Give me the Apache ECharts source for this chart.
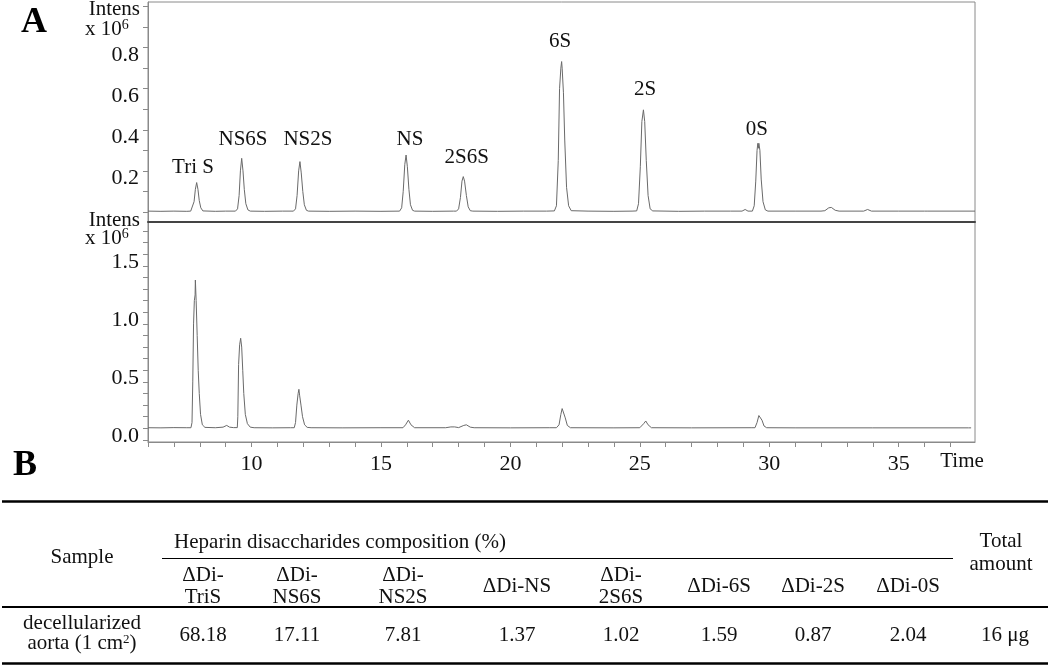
<!DOCTYPE html>
<html>
<head>
<meta charset="utf-8">
<script src="https://cdn.jsdelivr.net/npm/echarts@6/dist/echarts.min.js"></script>
<style>
  html, body { margin: 0; padding: 0; background: #fff; }
  #chart { width: 1050px; height: 666px; }
</style>
</head>
<body>
<div id="chart"></div>
<script>
// standard mix, intensity x10^6 vs time (min)
var standardTrace = [
  [6.0, 0.004], [6.5, 0.003], [7.0, 0.004], [7.5, 0.003],
  [7.65, 0.004], [7.72, 0.012], [7.78, 0.05], [7.83, 0.11], [7.88, 0.143], [7.93, 0.11], [7.98, 0.055], [8.04, 0.02], [8.12, 0.005],
  [8.6, 0.003], [9.0, 0.004],
  [9.38, 0.004], [9.46, 0.015], [9.52, 0.08], [9.57, 0.2], [9.62, 0.261], [9.67, 0.2], [9.72, 0.11], [9.78, 0.04], [9.86, 0.01], [9.95, 0.004],
  [10.5, 0.003], [11.2, 0.004],
  [11.62, 0.004], [11.7, 0.015], [11.76, 0.08], [11.82, 0.2], [11.87, 0.245], [11.92, 0.19], [11.98, 0.1], [12.04, 0.035], [12.12, 0.008], [12.2, 0.004],
  [13.0, 0.003], [14.0, 0.004], [15.0, 0.003],
  [15.72, 0.004], [15.8, 0.02], [15.86, 0.1], [15.92, 0.23], [15.97, 0.277], [16.02, 0.22], [16.08, 0.11], [16.14, 0.035], [16.22, 0.008], [16.3, 0.004],
  [17.0, 0.003], [17.8, 0.004],
  [17.92, 0.004], [18.0, 0.015], [18.07, 0.07], [18.13, 0.15], [18.18, 0.172], [18.23, 0.15], [18.3, 0.08], [18.37, 0.025], [18.45, 0.006], [18.55, 0.004],
  [19.5, 0.003], [20.5, 0.004], [21.4, 0.004],
  [21.7, 0.005], [21.78, 0.03], [21.85, 0.25], [21.9, 0.6], [21.95, 0.7], [21.98, 0.732], [22.0, 0.7], [22.05, 0.58], [22.1, 0.35], [22.17, 0.12], [22.25, 0.03], [22.35, 0.006],
  [23.0, 0.004], [24.0, 0.003], [24.7, 0.004],
  [24.88, 0.005], [24.95, 0.04], [25.02, 0.22], [25.08, 0.44], [25.14, 0.497], [25.19, 0.44], [25.25, 0.25], [25.32, 0.08], [25.4, 0.015], [25.5, 0.005],
  [26.5, 0.003], [27.5, 0.004], [28.5, 0.004],
  [28.95, 0.004], [29.07, 0.012], [29.18, 0.004],
  [29.35, 0.004], [29.42, 0.03], [29.48, 0.15], [29.53, 0.3], [29.56, 0.334], [29.58, 0.31], [29.6, 0.334], [29.64, 0.3], [29.69, 0.16], [29.76, 0.05], [29.85, 0.01], [29.95, 0.004],
  [31.0, 0.004], [32.0, 0.004],
  [32.15, 0.006], [32.3, 0.02], [32.4, 0.022], [32.55, 0.008], [32.7, 0.004],
  [33.65, 0.004], [33.8, 0.012], [33.95, 0.004],
  [35.0, 0.004], [36.0, 0.004], [36.05, 0.008], [36.1, 0.004], [37.95, 0.004]
];

// decellularized aorta sample
var sampleTrace = [
  [6.0, 0.005], [6.5, 0.004], [7.0, 0.006], [7.5, 0.005],
  [7.66, 0.005], [7.7, 0.05], [7.73, 0.4], [7.76, 0.9], [7.79, 1.1], [7.82, 1.15], [7.83, 1.278], [7.85, 1.278], [7.86, 1.1], [7.9, 0.8], [7.94, 0.5], [7.98, 0.3], [8.03, 0.12], [8.1, 0.03], [8.2, 0.008],
  [8.6, 0.005], [8.9, 0.01], [9.04, 0.025], [9.15, 0.01], [9.3, 0.006],
  [9.45, 0.006], [9.47, 0.1], [9.5, 0.55], [9.54, 0.72], [9.58, 0.776], [9.62, 0.7], [9.66, 0.5], [9.7, 0.3], [9.76, 0.12], [9.84, 0.04], [9.95, 0.01], [10.1, 0.005],
  [10.8, 0.004], [11.5, 0.005],
  [11.65, 0.005], [11.7, 0.05], [11.75, 0.2], [11.8, 0.3], [11.83, 0.336], [11.86, 0.28], [11.91, 0.2], [11.97, 0.1], [12.05, 0.03], [12.15, 0.008], [12.3, 0.005],
  [13.5, 0.004], [15.0, 0.005],
  [15.85, 0.005], [15.95, 0.03], [16.06, 0.07], [16.16, 0.03], [16.3, 0.005],
  [17.5, 0.005], [17.7, 0.012], [17.85, 0.012], [18.0, 0.006], [18.2, 0.025], [18.3, 0.03], [18.45, 0.01], [18.6, 0.005],
  [20.0, 0.004], [21.5, 0.005],
  [21.78, 0.005], [21.88, 0.03], [21.95, 0.12], [22.0, 0.17], [22.06, 0.165], [22.12, 0.09], [22.2, 0.025], [22.32, 0.005],
  [24.0, 0.004], [25.0, 0.005],
  [25.05, 0.005], [25.15, 0.04], [25.23, 0.063], [25.32, 0.03], [25.45, 0.005],
  [27.0, 0.004], [29.3, 0.005],
  [29.45, 0.005], [29.53, 0.05], [29.6, 0.11], [29.65, 0.115], [29.72, 0.07], [29.8, 0.02], [29.9, 0.005],
  [31.0, 0.004], [34.0, 0.004], [37.7, 0.004], [37.75, 0.012], [37.8, 0.004]
];

var peakNames = ['Tri S', 'NS6S', 'NS2S', 'NS', '2S6S', '6S', '2S', '0S'];
var peakLabelTime = [7.74, 9.67, 12.18, 16.12, 18.31, 21.92, 25.2, 29.52];
var peakLabelLevel = [0.214, 0.351, 0.351, 0.351, 0.263, 0.829, 0.594, 0.399];

var timeTicks = [6, 7, 8, 9, 10, 11, 12, 13, 14, 15, 16, 17, 18, 19, 20, 21, 22, 23, 24, 25, 26, 27, 28, 29, 30, 31, 32, 33, 34, 35, 36, 37];
var timeLabels = [10, 15, 20, 25, 30, 35];
var topTicks = [0, 0.1, 0.2, 0.3, 0.4, 0.5, 0.6, 0.7, 0.8, 0.9, 1.0];
var topLabels = [0.2, 0.4, 0.6, 0.8];
var bottomTicks = [-0.1, 0, 0.1, 0.2, 0.3, 0.4, 0.5, 0.6, 0.7, 0.8, 0.9, 1.0, 1.1, 1.2, 1.3, 1.4, 1.5, 1.6, 1.7];
var bottomLabels = [0, 0.5, 1.0, 1.5];

// table B
var tableColumns = ['ΔDi-\nTriS', 'ΔDi-\nNS6S', 'ΔDi-\nNS2S', 'ΔDi-NS', 'ΔDi-\n2S6S', 'ΔDi-6S', 'ΔDi-2S', 'ΔDi-0S'];
var tableValues = ['68.18', '17.11', '7.81', '1.37', '1.02', '1.59', '0.87', '2.04'];
var totalAmount = '16 μg';

var serif = '"Liberation Serif", "Times New Roman", serif';
var ink = '#111';
var axisGrey = '#8a8a8a';

var chart = echarts.init(document.getElementById('chart'));

var labelData = peakNames.map(function (n, i) {
  return { value: [peakLabelTime[i], peakLabelLevel[i]], name: n };
});

function yAxisFor(idx, min, max, ticks, labels) {
  return {
    type: 'value', gridIndex: idx, min: min, max: max,
    axisLine: { show: true, lineStyle: { color: axisGrey, width: 1 } },
    axisTick: { show: true, length: 5, customValues: ticks, lineStyle: { color: axisGrey } },
    axisLabel: {
      customValues: labels, margin: 9, color: ink, fontFamily: serif, fontSize: 22,
      verticalAlign: 'top', lineHeight: 15,
      formatter: function (v) { return v.toFixed(1); }
    },
    splitLine: { show: false }
  };
}

// table graphics
var colX = [203, 297, 403, 517, 621, 719, 813, 908];
var tableEls = [];
function rule(y, x1, x2, w) {
  tableEls.push({ type: 'line', shape: { x1: x1, y1: y, x2: x2, y2: y }, style: { stroke: '#000', lineWidth: w } });
}
function txt(x, y, s, extra) {
  var st = { text: s, x: x, y: y, fill: ink, font: '21px ' + serif, align: 'center', verticalAlign: 'middle', lineHeight: 22 };
  if (extra) for (var k in extra) st[k] = extra[k];
  tableEls.push({ type: 'text', style: st });
}
rule(501.5, 2, 1048, 2.5);
rule(558.5, 162, 953, 1.2);
rule(607, 2, 1048, 2);
rule(663.5, 2, 1048, 2.5);
txt(82, 557, 'Sample');
txt(340, 542, 'Heparin disaccharides composition (%)');
txt(1001, 553, 'Total\namount', { lineHeight: 23 });
tableColumns.forEach(function (c, i) { txt(colX[i], 586, c); });
tableValues.forEach(function (v, i) { txt(colX[i], 635, v); });
txt(1005, 635, totalAmount);
txt(82, 633, '{a|decellularized}\n{a|aorta (1 cm}{s|2}{a|)}', {
  rich: {
    a: { fontFamily: serif, fontSize: 21, lineHeight: 20, fill: ink },
    s: { fontFamily: serif, fontSize: 13, lineHeight: 20, verticalAlign: 'top', fill: ink }
  }
});

var option = {
  animation: false,
  backgroundColor: '#fff',
  grid: [
    { left: 148, top: 2, width: 827, height: 220, show: true, borderColor: axisGrey, borderWidth: 1 },
    { left: 148, top: 222, width: 827, height: 220, show: true, borderColor: axisGrey, borderWidth: 1 }
  ],
  xAxis: [
    {
      type: 'value', gridIndex: 0, min: 6, max: 37.95,
      axisLine: { show: true, onZero: false, lineStyle: { color: '#444', width: 2 } },
      axisTick: { show: false }, axisLabel: { show: false }, splitLine: { show: false }
    },
    {
      type: 'value', gridIndex: 1, min: 6, max: 37.95,
      axisLine: { show: true, onZero: false, lineStyle: { color: axisGrey, width: 1 } },
      axisTick: { show: true, length: 5, customValues: timeTicks, lineStyle: { color: axisGrey } },
      axisLabel: { customValues: timeLabels, margin: 11, color: ink, fontFamily: serif, fontSize: 22 },
      splitLine: { show: false }
    }
  ],
  yAxis: [
    yAxisFor(0, -0.049, 1.022, topTicks, topLabels),
    yAxisFor(1, -0.118, 1.778, bottomTicks, bottomLabels)
  ],
  series: [
    {
      type: 'line', xAxisIndex: 0, yAxisIndex: 0, data: standardTrace,
      showSymbol: false, symbol: 'none', lineStyle: { color: '#6a6a6a', width: 1 }
    },
    {
      type: 'line', xAxisIndex: 1, yAxisIndex: 1, data: sampleTrace,
      showSymbol: false, symbol: 'none', lineStyle: { color: '#6a6a6a', width: 1 }
    },
    {
      type: 'scatter', xAxisIndex: 0, yAxisIndex: 0, data: labelData,
      symbolSize: 1, itemStyle: { color: 'rgba(0,0,0,0)' },
      label: {
        show: true, position: 'inside', formatter: '{b}', opacity: 1,
        textBorderWidth: 0, color: ink, fontFamily: serif, fontSize: 21
      }
    }
  ],
  graphic: [
    { type: 'text', style: { text: 'A', x: 34, y: 23, align: 'center', verticalAlign: 'middle', fill: '#000', font: 'bold 36px ' + serif } },
    { type: 'text', style: { text: 'B', x: 25, y: 466, align: 'center', verticalAlign: 'middle', fill: '#000', font: 'bold 36px ' + serif } },
    { type: 'text', style: { text: 'Intens', x: 140, y: 9, align: 'right', verticalAlign: 'middle', fill: ink, font: '21px ' + serif } },
    { type: 'text', style: { text: '{a|x 10}{s|6}', x: 85, y: 29, align: 'left', verticalAlign: 'middle',
      rich: { a: { fontFamily: serif, fontSize: 21, fill: ink, lineHeight: 22 }, s: { fontFamily: serif, fontSize: 14, fill: ink, verticalAlign: 'top', lineHeight: 22 } } } },
    { type: 'text', style: { text: 'Intens', x: 140, y: 220, align: 'right', verticalAlign: 'middle', fill: ink, font: '21px ' + serif } },
    { type: 'text', style: { text: '{a|x 10}{s|6}', x: 85, y: 238, align: 'left', verticalAlign: 'middle',
      rich: { a: { fontFamily: serif, fontSize: 21, fill: ink, lineHeight: 22 }, s: { fontFamily: serif, fontSize: 14, fill: ink, verticalAlign: 'top', lineHeight: 22 } } } },
    { type: 'text', style: { text: 'Time', x: 962, y: 461, align: 'center', verticalAlign: 'middle', fill: ink, font: '21px ' + serif } }
  ].concat(tableEls)
};

chart.setOption(option);
</script>
</body>
</html>
